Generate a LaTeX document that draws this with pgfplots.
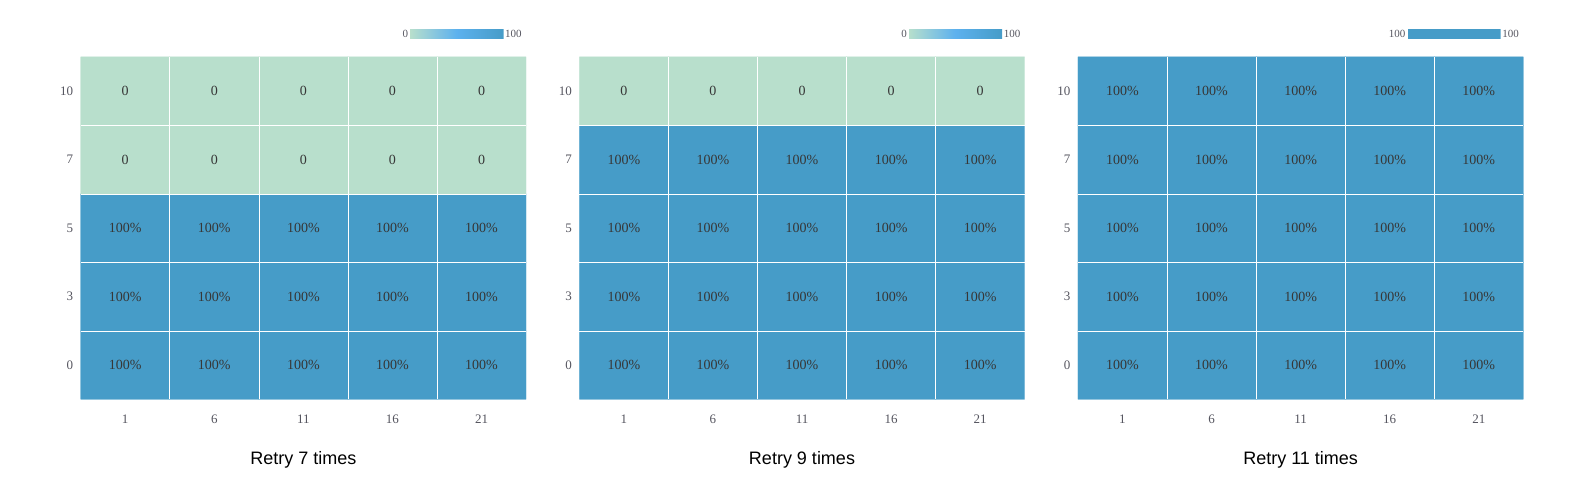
\documentclass[border=0pt]{standalone}
\usepackage{fontspec}
\setmainfont{Liberation Serif}
\newfontfamily\titlefont{Liberation Sans}
\usepackage{pgfplots}
\pgfplotsset{compat=1.18}
\definecolor{cg}{RGB}{184,223,204}
\definecolor{cb}{RGB}{70,156,200}
\definecolor{tk}{RGB}{85,85,95}
\definecolor{ct}{RGB}{55,55,55}
\pgfplotsset{
 hm/.style={
  scale only axis, width=445.4pt, height=342.4pt,
  xmin=-0.5,xmax=4.5,ymin=-0.5,ymax=4.5,
  xtick={0,...,4}, ytick={0,...,4},
  xticklabels={1,6,11,16,21}, yticklabels={0,3,5,7,10},
  minor xtick={0.5,1.5,2.5,3.5}, minor ytick={0.5,1.5,2.5,3.5},
  xminorgrids=true, yminorgrids=true,
  minor grid style={white, line width=0.6pt},
  axis on top,
  axis line style={draw=none},
  major tick length=0pt, minor tick length=0pt,
  tick label style={font=\fontsize{13}{15}\selectfont, text=tk},
  xticklabel style={yshift=-12pt}, yticklabel style={xshift=-4pt},
  point meta min=0, point meta max=100,
  colorbar horizontal,
  xlabel style={font=\titlefont\fontsize{18}{20}\selectfont, text=black, yshift=-21pt},
 },
 cbar/.style 2 args={
  colorbar style={
   at={(parent axis.north east)}, anchor=south east, xshift=-22.6pt, yshift=27pt,
   width=93.6pt, height=9pt, scale only axis, xtick=\empty, ytick=\empty,
   axis line style={draw=none},
   extra description/.code={
    \node[anchor=east, inner sep=1.5pt, font=\fontsize{11}{13}\selectfont, text=tk] at (rel axis cs:0,0.5) {#1};
    \node[anchor=west, inner sep=1.5pt, font=\fontsize{11}{13}\selectfont, text=tk] at (rel axis cs:1,0.5) {#2};
   },
  },
 },
 lab/.style={draw=none, mark=none, nodes near coords={#1}, nodes near coords align=center,
   every node near coord/.append style={font=\fontsize{14}{16}\selectfont, text=ct, anchor=center}},
}
\begin{document}
\begin{tikzpicture}
\useasboundingbox (0,0) rectangle (1578pt,492pt);
% Panel 1
\begin{axis}[hm, at={(80.7pt,92.7pt)}, anchor=south west,
  colormap={gm}{rgb255=(184,223,204) rgb255=(93,177,238) rgb255=(70,156,200)},
  cbar={0}{100}, xlabel={Retry 7 times}]
\addplot[matrix plot*, shader=flat corner, mesh/cols=5, point meta=explicit] table[meta=z] {
x y z
0 0 100
1 0 100
2 0 100
3 0 100
4 0 100
0 1 100
1 1 100
2 1 100
3 1 100
4 1 100
0 2 100
1 2 100
2 2 100
3 2 100
4 2 100
0 3 0
1 3 0
2 3 0
3 3 0
4 3 0
0 4 0
1 4 0
2 4 0
3 4 0
4 4 0
};
\addplot[lab={100\%}] coordinates {(0,0)(1,0)(2,0)(3,0)(4,0)(0,1)(1,1)(2,1)(3,1)(4,1)(0,2)(1,2)(2,2)(3,2)(4,2)};
\addplot[lab={0}] coordinates {(0,3)(1,3)(2,3)(3,3)(4,3)(0,4)(1,4)(2,4)(3,4)(4,4)};
\end{axis}
% Panel 2
\begin{axis}[hm, at={(579.3pt,92.7pt)}, anchor=south west,
  colormap={gm}{rgb255=(184,223,204) rgb255=(93,177,238) rgb255=(70,156,200)},
  cbar={0}{100}, xlabel={Retry 9 times}]
\addplot[matrix plot*, shader=flat corner, mesh/cols=5, point meta=explicit] table[meta=z] {
x y z
0 0 100
1 0 100
2 0 100
3 0 100
4 0 100
0 1 100
1 1 100
2 1 100
3 1 100
4 1 100
0 2 100
1 2 100
2 2 100
3 2 100
4 2 100
0 3 100
1 3 100
2 3 100
3 3 100
4 3 100
0 4 0
1 4 0
2 4 0
3 4 0
4 4 0
};
\addplot[lab={100\%}] coordinates {(0,0)(1,0)(2,0)(3,0)(4,0)(0,1)(1,1)(2,1)(3,1)(4,1)(0,2)(1,2)(2,2)(3,2)(4,2)(0,3)(1,3)(2,3)(3,3)(4,3)};
\addplot[lab={0}] coordinates {(0,4)(1,4)(2,4)(3,4)(4,4)};
\end{axis}
% Panel 3
\begin{axis}[hm, at={(1077.9pt,92.7pt)}, anchor=south west,
  colormap={sb}{rgb255=(70,156,200) rgb255=(70,156,200)},
  cbar={100}{100}, xlabel={Retry 11 times}]
\addplot[matrix plot*, shader=flat corner, mesh/cols=5, point meta=explicit] table[meta=z] {
x y z
0 0 100
1 0 100
2 0 100
3 0 100
4 0 100
0 1 100
1 1 100
2 1 100
3 1 100
4 1 100
0 2 100
1 2 100
2 2 100
3 2 100
4 2 100
0 3 100
1 3 100
2 3 100
3 3 100
4 3 100
0 4 100
1 4 100
2 4 100
3 4 100
4 4 100
};
\addplot[lab={100\%}] coordinates {(0,0)(1,0)(2,0)(3,0)(4,0)(0,1)(1,1)(2,1)(3,1)(4,1)(0,2)(1,2)(2,2)(3,2)(4,2)(0,3)(1,3)(2,3)(3,3)(4,3)(0,4)(1,4)(2,4)(3,4)(4,4)};
\end{axis}
\end{tikzpicture}
\end{document}
